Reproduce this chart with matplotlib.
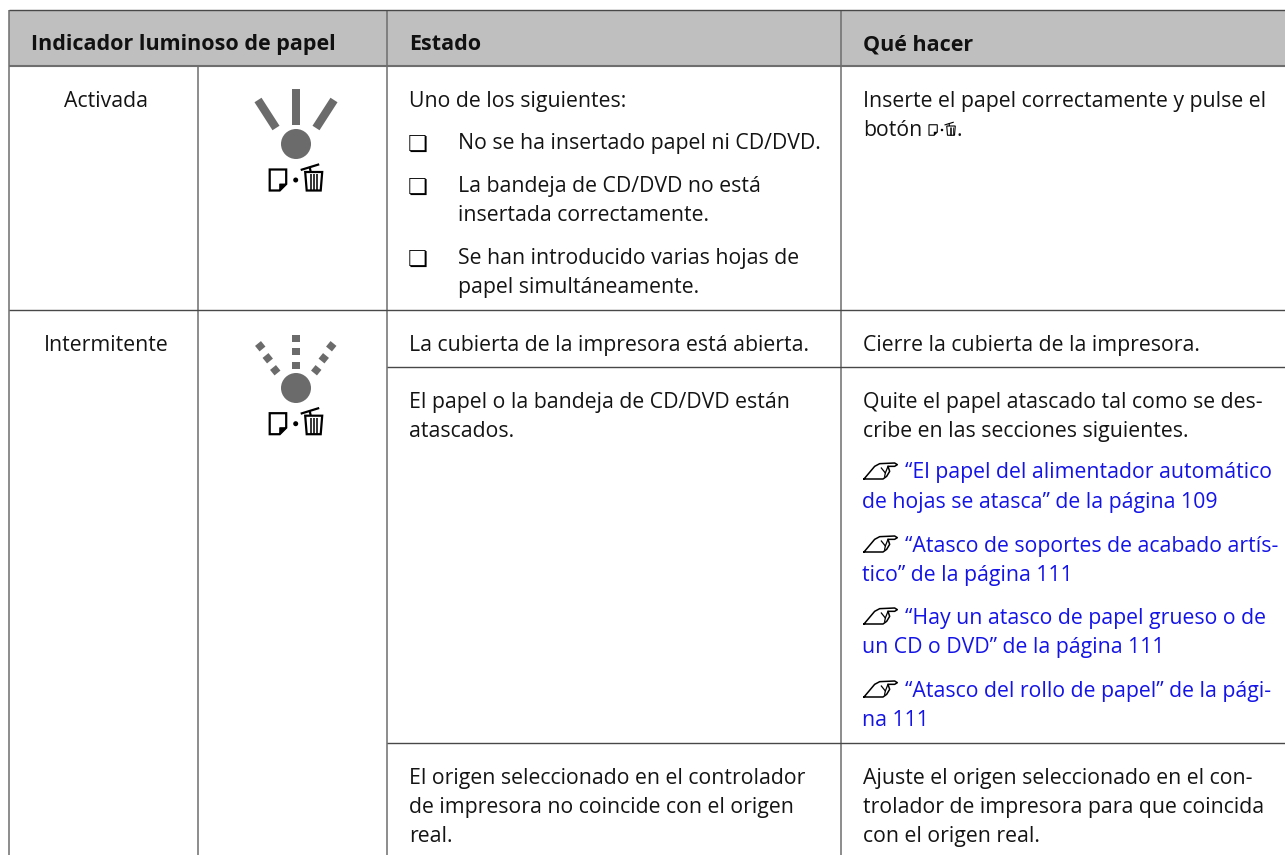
import matplotlib
matplotlib.use("Agg")
import matplotlib.pyplot as plt
from matplotlib.patches import Rectangle, Circle, Polygon

FONT = "Open Sans"
FS = 15.3
HFS = 15.45
BLUE = "#1414e6"
INK = "#141414"
LINE = "#6e6e6e"
GREY = "#6b6b6b"

headers = ["Indicador luminoso de papel", "Estado", "Qué hacer"]
status_labels = ["Activada", "Intermitente"]

state_lines = [
    (409, 107, "Uno de los siguientes:"),
    (458, 149, "No se ha insertado papel ni CD/DVD."),
    (458, 192, "La bandeja de CD/DVD no está"),
    (458, 221, "insertada correctamente."),
    (458, 264, "Se han introducido varias hojas de"),
    (458, 293, "papel simultáneamente."),
    (409, 351, "La cubierta de la impresora está abierta."),
    (409, 408, "El papel o la bandeja de CD/DVD están"),
    (409, 437, "atascados."),
    (409, 784, "El origen seleccionado en el controlador"),
    (409, 813, "de impresora no coincide con el origen"),
    (409, 842, "real."),
]
checkbox_y = [149, 192, 264]

action_lines = [
    (863, 107, "Inserte el papel correctamente y pulse el"),
    (863, 136, "botón"),
    (863, 351, "Cierre la cubierta de la impresora."),
    (863, 408, "Quite el papel atascado tal como se des-"),
    (863, 437, "cribe en las secciones siguientes."),
    (863, 784, "Ajuste el origen seleccionado en el con-"),
    (863, 813, "trolador de impresora para que coincida"),
    (863, 842, "con el origen real."),
]
link_lines = [
    (905, 478, "“El papel del alimentador automático"),
    (862, 508, "de hojas se atasca” de la página 109"),
    (905, 552, "“Atasco de soportes de acabado artís-"),
    (862, 581, "tico” de la página 111"),
    (905, 624, "“Hay un atasco de papel grueso o de"),
    (862, 653, "un CD o DVD” de la página 111"),
    (905, 697, "“Atasco del rollo de papel” de la pági-"),
    (862, 726, "na 111"),
]
hand_y = [479, 552, 624, 697]

fig = plt.figure(figsize=(12.85, 8.55), dpi=100)
ax = fig.add_axes([0, 0, 1, 1])
ax.set_xlim(0, 1285)
ax.set_ylim(855, 0)
ax.axis("off")

# header band and rules
ax.add_patch(Rectangle((9, 10), 1276, 56, fc="#bfbfbf", ec="none", zorder=0))
for x, y0, y1 in [(9, 10, 855), (198, 66, 855), (387, 10, 855), (841, 10, 855)]:
    ax.plot([x, x], [y0, y1], color=LINE, lw=1.1, solid_capstyle="butt")
ax.plot([9, 1285], [66.5, 66.5], color="#6e6e6e", lw=1.5, solid_capstyle="butt")
for y, x0 in [(10, 9), (310, 9), (367, 387), (743, 387)]:
    ax.plot([x0, 1285], [y, y], color="#484848", lw=1.0, solid_capstyle="butt")


def text(x, y, s, **kw):
    kw.setdefault("color", INK)
    kw.setdefault("fontsize", FS)
    kw.setdefault("family", FONT)
    ax.text(x, y, s, va="baseline", **kw)


for x, s in zip([31, 409, 863], headers):
    text(x, 50, s, fontweight="bold", fontsize=HFS, color="#111111")
text(106, 107, status_labels[0], ha="center")
text(106, 351, status_labels[1], ha="center")

for x, y, s in state_lines + action_lines:
    text(x, y, s)
for x, y, s in link_lines:
    text(x, y, s, color=BLUE)
for y in checkbox_y:
    text(407.5, y + 2, "❏", family="DejaVu Sans", fontsize=16, color="black")


def hand(x0, y0):
    """Skewed pointing hand pictogram; (x0, y0) is the bottom-left corner."""
    s = 1 / 3
    outline = [(0, 0), (57, 0), (68, -8), (77, -23), (72, -38), (92, -38), (100, -43),
               (92, -48), (47, -46), (32, -38), (0, 0)]
    ax.plot([x0 + a * s for a, _ in outline], [y0 + b * s for _, b in outline],
            color="black", lw=1.1, solid_joinstyle="round")
    detail = [(52, -33), (64, -18), (72, -38)]
    ax.plot([x0 + a * s for a, _ in detail], [y0 + b * s for _, b in detail],
            color="black", lw=0.9)
    ax.plot([x0 + 64 * s, x0 + 62 * s], [y0 - 18 * s, y0 - 8 * s], color="black", lw=0.9)


for y in hand_y:
    hand(864, y)


def paper_trash(cx, cy, s=1.0, lw=1.6):
    """Paper + trash pictogram; (cx, cy) is the middle dot."""
    P = lambda dx, dy: (cx + dx * s, cy + dy * s)
    ax.add_patch(Polygon([P(-26, -10.5), P(-9.5, -10.5), P(-9.5, 4), P(-16, 10.5), P(-26, 10.5)],
                         closed=True, fc="white", ec="black", lw=lw))
    ax.add_patch(Polygon([P(-9.5, 4), P(-16, 10.5), P(-16, 4)], closed=True, fc="black", ec="black", lw=lw * .4))
    ax.add_patch(Circle(P(0, 0), 2.5 * s, fc="black", ec="none"))
    ax.plot(*zip(P(5, -10), P(23.5, -15.7)), color="black", lw=lw, solid_capstyle="butt")
    ax.plot(*zip(P(14, -13), P(15, -8)), color="black", lw=lw, solid_capstyle="butt")
    ax.add_patch(Polygon([P(9.5, -8), P(26.5, -8), P(25, 10.5), P(11, 10.5)], closed=True, fc="white", ec="black", lw=lw))
    for dx in (15, 18, 21):
        ax.plot(*zip(P(dx, -6), P(dx, 10)), color="black", lw=lw * .7, solid_capstyle="butt")


# solid indicator
ax.add_patch(Circle((296, 144), 15, fc=GREY, ec="none"))
ax.add_patch(Rectangle((292, 89.5), 8, 35.5, fc=GREY, ec="none"))
ax.plot([258, 276], [100, 128], color=GREY, lw=6, solid_capstyle="butt")
ax.plot([334, 316], [100, 128], color=GREY, lw=6, solid_capstyle="butt")
paper_trash(295.7, 180)

# blinking indicator
ax.add_patch(Circle((296, 388), 15, fc=GREY, ec="none"))
for y in (338, 352, 366):
    ax.add_patch(Rectangle((291.7, y - 3.5), 8.6, 7, fc=GREY, ec="none"))
for (x0, y0), (x1, y1) in [((258, 343.5), (262.5, 349)), ((265.5, 355.5), (270, 361)), ((273, 367.5), (277.5, 373)),
                           ((333.5, 343.5), (329, 349)), ((326, 355.5), (321.5, 361)), ((318.5, 367.5), (314, 373))]:
    ax.plot([x0, x1], [y0, y1], color=GREY, lw=5.5, solid_capstyle="butt")
paper_trash(295.7, 423.7)

# inline button glyph
paper_trash(942, 130, s=0.5, lw=0.8)
text(956, 136, ".")

fig.savefig("out.png", dpi=100)
